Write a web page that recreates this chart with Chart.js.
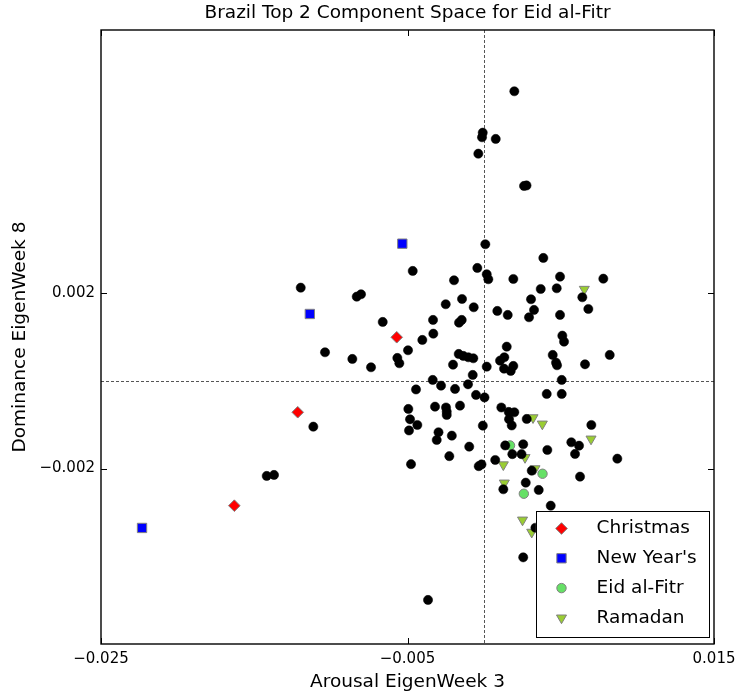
<!DOCTYPE html>
<html><head><meta charset="utf-8">
<script src="https://cdn.jsdelivr.net/npm/chart.js@4.4.1/dist/chart.umd.min.js"></script>
<style>html,body{margin:0;padding:0;background:#fff;} #wrap{width:736px;height:697px;}</style>
</head><body><div id="wrap"><canvas id="c" width="736" height="697"></canvas></div>
<script>
const chartTitle = 'Brazil Top 2 Component Space for Eid al-Fitr';
const xAxisTitle = 'Arousal EigenWeek 3';
const yAxisTitle = 'Dominance EigenWeek 8';
const xTickValues = [-0.025, -0.005, 0.015];
const xTickLabels = ['\u22120.025', '\u22120.005', '0.015'];
const yTickValues = [0.002, -0.002];
const yTickLabels = ['0.002', '\u22120.002'];
const xRange = [-0.025, 0.015];
const yRange = [-0.006, 0.008];

const otherX = [0.001971, -0.000091, -0.000137, 0.000757, -0.000378, 0.002604, 0.002767, 0.000078, 0.003863, -0.004659,
 -0.000444, 0.000170, 0.000274, 0.001905, 0.004953, 0.007778, -0.011967, -0.008313, -0.008033, -0.001964,
 0.003693, 0.004737, 0.006408, -0.001442, -0.002506, -0.000679, 0.003060, 0.006799, 0.000861, 0.001540,
 0.003256, 0.002930, 0.004953, -0.006617, -0.003334, -0.001462, -0.001638, -0.004033, -0.003315, 0.005103,
 0.005214, 0.001475, -0.004966, -0.010382, -0.008600, -0.007380, -0.005664, -0.005533, -0.001657, -0.001357,
 -0.001031, -0.000705, -0.002029, 0.000170, 0.001038, 0.001318, 0.001299, 0.001736, 0.001905, 0.004476,
 0.004692, 0.004757, 0.008196, 0.006584, -0.000744, -0.003354, -0.002812, -0.001051, -0.004444, -0.001899,
 0.005064, -0.000529, 0.000026, 0.004085, 0.005064, -0.004946, -0.004835, -0.004359, -0.004901, -0.003204,
 -0.002486, -0.002440, -0.002440, -0.001573, 0.001122, 0.001605, 0.001971, 0.001625, 0.001801, 0.002780,
 -0.000085, 0.006995, -0.002976, -0.003093, -0.002108, -0.000972, 0.001377, 0.002551, 0.001840, 0.002440,
 0.004124, 0.005690, 0.006193, 0.005932, 0.008692, 0.000724, -0.002271, -0.004770, -0.000352, -0.000170,
 0.003106, 0.006258, 0.001253, 0.002715, 0.003563, 0.004346, 0.003347, 0.002551, -0.003661, -0.011145,
 -0.014186, -0.013710];
const otherY = [0.006603, 0.005659, 0.005554, 0.005516, 0.005180, 0.004444, 0.004455, 0.003115, 0.002802, 0.002506,
 0.002574, 0.002431, 0.002317, 0.002323, 0.002376, 0.002330, 0.002125, 0.001920, 0.001975, 0.002294,
 0.002095, 0.002111, 0.001906, 0.001867, 0.001747, 0.001678, 0.001861, 0.001639, 0.001594, 0.001503,
 0.001617, 0.001450, 0.001503, 0.001343, 0.001389, 0.001389, 0.001327, 0.000933, 0.001076, 0.001031,
 0.000894, 0.000780, 0.000698, 0.000652, 0.000499, 0.000310, 0.000522, 0.000401, 0.000613, 0.000568,
 0.000538, 0.000515, 0.000369, 0.000324, 0.000461, 0.000538, 0.000278, 0.000226, 0.000340, 0.000591,
 0.000415, 0.000356, 0.000591, 0.000378, 0.000135, 0.000021, -0.000109, -0.000078, -0.000196, -0.000185,
 0.000021, -0.000321, -0.000378, -0.000299, -0.000299, -0.000641, -0.000876, -0.001006, -0.001131, -0.000588,
 -0.000607, -0.000702, -0.000778, -0.000565, -0.000607, -0.000709, -0.000716, -0.000873, -0.001017, -0.000869,
 -0.001021, -0.001006, -0.001172, -0.001348, -0.001249, -0.001500, -0.001473, -0.001446, -0.001671, -0.001671,
 -0.001576, -0.001400, -0.001478, -0.001667, -0.001774, -0.001804, -0.001717, -0.001899, -0.001945, -0.001906,
 -0.002048, -0.002184, -0.002472, -0.002321, -0.002488, -0.002846, -0.003349, -0.004024, -0.004996, -0.001044,
 -0.002168, -0.002146];
const christmasX = [-0.005703, -0.012163, -0.016300];
const christmasY = [0.000994, -0.000716, -0.002846];
const newYearX = [-0.005338, -0.011374, -0.022323];
const newYearY = [0.003128, 0.001525, -0.003354];
const eidX = [0.001690, 0.003811, 0.002591];
const eidY = [-0.001473, -0.002118, -0.002574];
const ramadanX = [0.006538, 0.003191, 0.003798, 0.006976, 0.002669, 0.001253, 0.003321, 0.001318, 0.002506, 0.003106];
const ramadanY = [0.002089, -0.000839, -0.000983, -0.001325, -0.001747, -0.001913, -0.002002, -0.002328, -0.003172, -0.003450];

const FONT = '"DejaVu Sans", "Liberation Sans", sans-serif';
function pts(xs, ys) { return xs.map((x, i) => ({ x: x, y: ys[i] })); }

function drawMarker(ctx, d, cx, cy) {
  ctx.save();
  ctx.fillStyle = d.backgroundColor;
  ctx.strokeStyle = d.borderColor;
  ctx.lineWidth = d.borderWidth;
  Chart.helpers.drawPoint(ctx, { pointStyle: d.pointStyle, rotation: d.pointRotation || 0, radius: d.pointRadius, borderWidth: d.borderWidth }, cx, cy);
  ctx.restore();
}

const framePlugin = {
  id: 'frame',
  beforeDatasetsDraw(chart) {
    const { ctx, chartArea: a, scales: { x, y } } = chart;
    ctx.save();
    ctx.strokeStyle = '#555';
    ctx.lineWidth = 1;
    ctx.setLineDash([3, 2]);
    const px = Math.round(x.getPixelForValue(0)) + 0.5;
    const py = Math.round(y.getPixelForValue(0)) + 0.5;
    ctx.beginPath();
    ctx.moveTo(px, a.top); ctx.lineTo(px, a.bottom);
    ctx.moveTo(a.left, py); ctx.lineTo(a.right, py);
    ctx.stroke();
    ctx.restore();
  },
  afterDatasetsDraw(chart) {
    const { ctx, chartArea: a, scales: { x, y } } = chart;
    ctx.save();
    ctx.strokeStyle = '#000';
    ctx.lineWidth = 1;
    const tl = 6;
    ctx.beginPath();
    xTickValues.forEach(v => {
      const p = Math.round(x.getPixelForValue(v)) + 0.5;
      ctx.moveTo(p, a.bottom); ctx.lineTo(p, a.bottom - tl);
      ctx.moveTo(p, a.top); ctx.lineTo(p, a.top + tl);
    });
    yTickValues.forEach(v => {
      const p = Math.round(y.getPixelForValue(v)) + 0.5;
      ctx.moveTo(a.left, p); ctx.lineTo(a.left + tl, p);
      ctx.moveTo(a.right, p); ctx.lineTo(a.right - tl, p);
    });
    ctx.stroke();
    ctx.lineWidth = 1.4;
    ctx.strokeRect(a.left, a.top, a.right - a.left, a.bottom - a.top);
    ctx.restore();
  },
  afterDraw(chart) {
    const { ctx, chartArea: a } = chart;
    const boxW = 172.6, boxH = 125.8;
    const L = a.right - 5.5 - boxW, T = a.bottom - 6.7 - boxH;
    ctx.save();
    ctx.fillStyle = '#fff';
    ctx.fillRect(L, T, boxW, boxH);
    ctx.strokeStyle = '#000';
    ctx.lineWidth = 1;
    ctx.strokeRect(Math.round(L) + 0.5, Math.round(T) + 0.5, Math.round(boxW), Math.round(boxH));
    const sets = chart.data.datasets.filter(d => d.inLegend);
    sets.forEach((d, i) => {
      const cy = T + 17 + i * 29.8;
      drawMarker(ctx, d, L + 25.6, cy);
      ctx.fillStyle = '#000';
      ctx.font = '18.5px ' + FONT;
      ctx.textBaseline = 'middle';
      ctx.textAlign = 'left';
      ctx.fillText(d.label, L + 60.7, cy);
    });
    ctx.restore();
  }
};

const GRAY = '#808080';
new Chart(document.getElementById('c'), {
  type: 'scatter',
  data: {
    datasets: [
      { label: 'Other days', data: pts(otherX, otherY), pointStyle: 'circle', pointRadius: 4.6,
        backgroundColor: '#000', borderColor: '#000', borderWidth: 0.5, inLegend: false },
      { label: 'Christmas', data: pts(christmasX, christmasY), pointStyle: 'rectRot', pointRadius: 5.8,
        backgroundColor: '#ff0000', borderColor: GRAY, borderWidth: 1, inLegend: true },
      { label: "New Year's", data: pts(newYearX, newYearY), pointStyle: 'rect', pointRadius: 6.6,
        backgroundColor: '#0000ff', borderColor: GRAY, borderWidth: 1, inLegend: true },
      { label: 'Eid al-Fitr', data: pts(eidX, eidY), pointStyle: 'circle', pointRadius: 4.7,
        backgroundColor: '#66e066', borderColor: GRAY, borderWidth: 1, inLegend: true },
      { label: 'Ramadan', data: pts(ramadanX, ramadanY), pointStyle: 'triangle', pointRotation: 180, pointRadius: 5.8,
        backgroundColor: '#9acd32', borderColor: GRAY, borderWidth: 1, inLegend: true }
    ]
  },
  options: {
    responsive: false,
    animation: false,
    events: [],
    devicePixelRatio: 1,
    layout: { padding: { left: 0, right: 22, top: 0, bottom: 0 } },
    plugins: {
      legend: { display: false },
      tooltip: { enabled: false },
      title: { display: true, text: chartTitle, fullSize: false, color: '#000',
        font: { family: FONT, size: 18.5, weight: 'normal' }, padding: { top: 2, bottom: 5.8 } }
    },
    scales: {
      x: {
        type: 'linear', position: 'bottom', min: xRange[0], max: xRange[1],
        afterBuildTicks: s => { s.ticks = xTickValues.map(v => ({ value: v })); },
        ticks: { color: '#000', font: { family: FONT, size: 15 }, padding: 6, maxRotation: 0, autoSkip: false,
          callback: v => { const i = xTickValues.indexOf(v); return i >= 0 ? xTickLabels[i] : ''; } },
        grid: { display: false, drawTicks: false },
        border: { display: false },
        title: { display: true, text: xAxisTitle, color: '#000', font: { family: FONT, size: 18.5 }, padding: { top: 0, bottom: 4 } },
        afterFit: s => { s.height = 53; s.paddingLeft = 0; s.paddingRight = 0; }
      },
      y: {
        type: 'linear', position: 'left', min: yRange[0], max: yRange[1],
        afterBuildTicks: s => { s.ticks = yTickValues.map(v => ({ value: v })); },
        ticks: { color: '#000', font: { family: FONT, size: 15 }, padding: 6, autoSkip: false,
          callback: v => { const i = yTickValues.indexOf(v); return i >= 0 ? yTickLabels[i] : ''; } },
        grid: { display: false, drawTicks: false },
        border: { display: false },
        title: { display: true, text: yAxisTitle, color: '#000', font: { family: FONT, size: 18.5 }, padding: { top: 9, bottom: 0 } },
        afterFit: s => { s.width = 101; s.paddingTop = 0; s.paddingBottom = 0; }
      }
    }
  },
  plugins: [framePlugin]
});
</script>
</body></html>
